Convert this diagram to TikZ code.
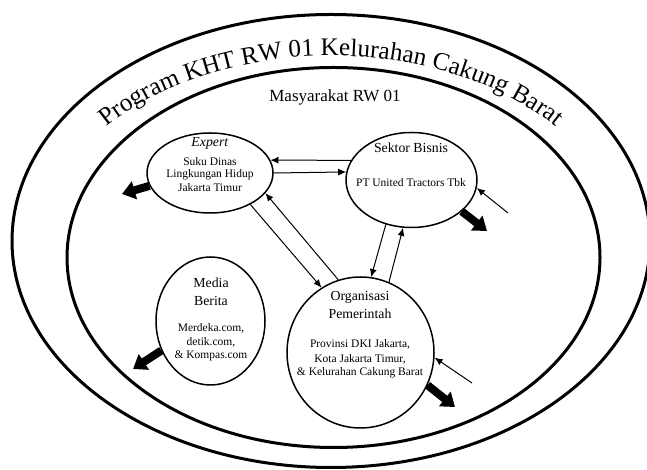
\documentclass[tikz,border=0pt]{standalone}
\usepackage{fontspec}
\setmainfont{Liberation Serif}
\usepackage{tikz}
\usetikzlibrary{shapes.geometric}
\usetikzlibrary{arrows.meta}
\usetikzlibrary{decorations.text}
\newcommand{\progfont}{\fontsize{12.6}{14}\selectfont}
\tikzset{
	ringstyle/.style={ellipse,draw=black,line width=1.5pt,inner sep=0},
	actorstyle/.style={ellipse,draw=black,line width=0.75pt,inner sep=0},
	headstyle/.style={font=\fontsize{6.9}{8}\selectfont,inner sep=0},
	bodystyle/.style={font=\fontsize{5.75}{7}\selectfont,inner sep=0},
	linkstyle/.style={-{Latex[length=4pt,width=3.5pt]},line width=0.5pt},
	flowstyle/.style={-{Triangle[length=6.5pt,width=9pt]},line width=4pt}
}
\begin{document}
\begin{tikzpicture}[x=0.5pt,y=0.5pt]
	\useasboundingbox (0,0) rectangle (647,470);
	\node[ringstyle,minimum width=319pt,minimum height=226.5pt] (outer) at (331,229) {};
	\node[ringstyle,minimum width=266.5pt,minimum height=190pt] (inner) at (333.5,212.5) {};
	\path[decorate,decoration={text along path,text align=center,text={|\progfont|Program KHT RW 01 Kelurahan Cakung Barat}}]
	(331,218) ++(148:292 and 196) arc[start angle=148,end angle=32,x radius=292,y radius=196];
	\node[font=\fontsize{8.5}{10}\selectfont,inner sep=0] (rw) at (335,373) {Masyarakat RW 01};
	\node[actorstyle,minimum width=63pt,minimum height=40pt] (expert) at (210,297) {};
	\node[actorstyle,minimum width=65.5pt,minimum height=47.5pt] (sektor) at (411.5,290) {};
	\node[actorstyle,minimum width=54.5pt,minimum height=64pt] (media) at (210.5,149) {};
	\node[actorstyle,minimum width=73.5pt,minimum height=75.5pt] (organisasi) at (360.5,117.5) {};
	\node[headstyle] (et) at (210,327) {\textit{Expert}};
	\node[bodystyle] (e1) at (210,308) {Suku Dinas};
	\node[bodystyle] (e2) at (210,295) {Lingkungan Hidup};
	\node[bodystyle] (e3) at (210,282) {Jakarta Timur};
	\node[headstyle] (st) at (411,322) {Sektor Bisnis};
	\node[bodystyle] (s1) at (411,287) {PT United Tractors Tbk};
	\node[headstyle] (mt) at (211,187) {Media};
	\node[headstyle] (mt2) at (211,169) {Berita};
	\node[bodystyle] (m1) at (211,142) {Merdeka.com,};
	\node[bodystyle] (m2) at (211,128) {detik.com,};
	\node[bodystyle] (m3) at (211,114) {\& Kompas.com};
	\node[headstyle] (ot) at (360,173) {Organisasi};
	\node[headstyle] (ot2) at (360,156) {Pemerintah};
	\node[bodystyle] (o1) at (360,126) {Provinsi DKI Jakarta,};
	\node[bodystyle] (o2) at (360,111) {Kota Jakarta Timur,};
	\node[bodystyle] (o3) at (360,97) {\& Kelurahan Cakung Barat};
	\coordinate (eout) at (122,276);
	\coordinate (sout) at (487,239);
	\coordinate (mout) at (133,101);
	\coordinate (oout) at (455,63);
	\coordinate (sin) at (508,257);
	\coordinate (oin) at (472,87);
	\draw[linkstyle] (sektor.162) -- (expert.12);
	\draw[linkstyle] (expert.0) -- (sektor.173);
	\draw[linkstyle] (expert.322) -- (organisasi.121);
	\draw[linkstyle] (organisasi.107) -- (expert.340);
	\draw[linkstyle] (sektor.240) -- (organisasi.82);
	\draw[linkstyle] (organisasi.68) -- (sektor.260);
	\draw[linkstyle] (sin) -- (sektor.353);
	\draw[linkstyle] (oin) -- (organisasi.356);
	\draw[flowstyle] (expert.192) -- (eout);
	\draw[flowstyle] (sektor.328) -- (sout);
	\draw[flowstyle] (media.211) -- (mout);
	\draw[flowstyle] (organisasi.334) -- (oout);
\end{tikzpicture}
\end{document}
